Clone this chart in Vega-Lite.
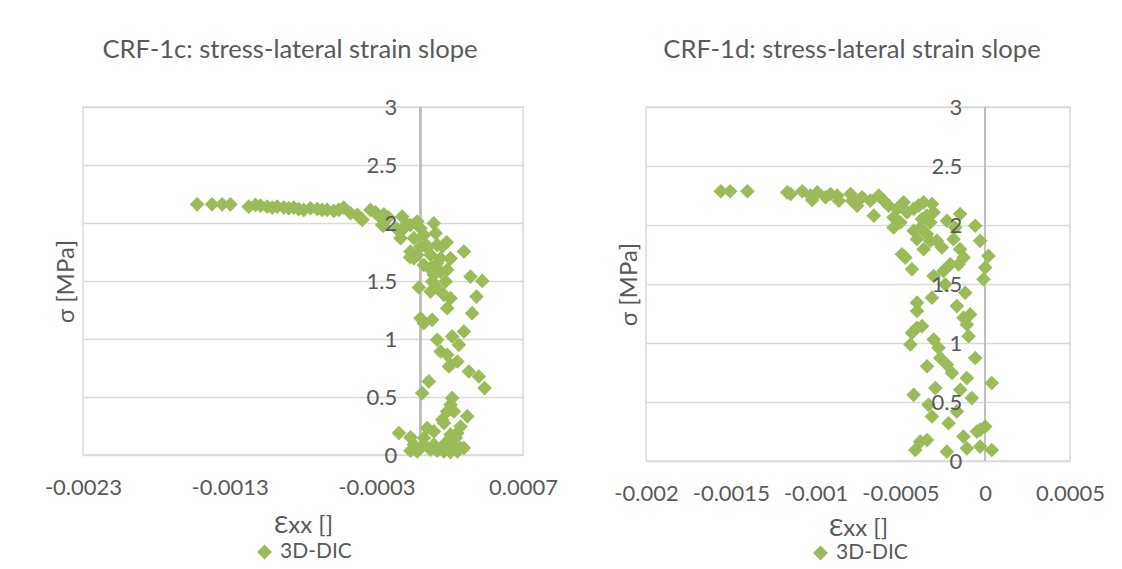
{
  "$schema": "https://vega.github.io/schema/vega-lite/v6.json",
  "autosize": {"type": "pad"},
  "padding": {"left": 43, "top": 37, "right": 0, "bottom": 0},
  "background": "white",
  "bounds": "flush",
  "spacing": 123,
  "config": {
    "font": "Lato",
    "view": {"stroke": "#d9d9d9", "strokeWidth": 1.5},
    "axis": {
      "labelFont": "Lato",
      "titleFont": "Lato",
      "labelColor": "#595959",
      "titleColor": "#595959",
      "labelFontSize": 22,
      "titleFontSize": 24,
      "titleFontWeight": "normal",
      "gridColor": "#d9d9d9",
      "gridWidth": 1.5,
      "domain": false,
      "ticks": false,
      "tickSize": 0,
      "labelFlush": false,
      "labelOverlap": false
    },
    "title": {
      "font": "Lato",
      "fontSize": 25.6,
      "fontWeight": "normal",
      "color": "#595959",
      "anchor": "middle",
      "frame": "group",
      "baseline": "bottom",
      "offset": 33
    },
    "legend": {
      "labelFont": "Lato",
      "labelFontSize": 21,
      "labelColor": "#595959",
      "padding": 0,
      "symbolType": "diamond",
      "symbolSize": 225,
      "symbolStrokeWidth": 0,
      "labelOffset": 5
    }
  },
  "datasets": {
    "crf1c": [
      {"exx": -0.001522, "sigma": 2.161}, {"exx": -0.001420, "sigma": 2.161}, {"exx": -0.001351, "sigma": 2.161}, {"exx": -0.001295, "sigma": 2.161},
      {"exx": -0.001170, "sigma": 2.141}, {"exx": -0.001124, "sigma": 2.156}, {"exx": -0.001090, "sigma": 2.150}, {"exx": -0.001045, "sigma": 2.141},
      {"exx": -0.001010, "sigma": 2.133}, {"exx": -0.000976, "sigma": 2.141}, {"exx": -0.000931, "sigma": 2.133}, {"exx": -0.000897, "sigma": 2.127},
      {"exx": -0.000863, "sigma": 2.133}, {"exx": -0.000829, "sigma": 2.121}, {"exx": -0.000795, "sigma": 2.113}, {"exx": -0.000749, "sigma": 2.127},
      {"exx": -0.000703, "sigma": 2.121}, {"exx": -0.000669, "sigma": 2.113}, {"exx": -0.000635, "sigma": 2.113}, {"exx": -0.000590, "sigma": 2.104},
      {"exx": -0.000556, "sigma": 2.113}, {"exx": -0.000522, "sigma": 2.133}, {"exx": -0.000476, "sigma": 2.084}, {"exx": -0.000430, "sigma": 2.070},
      {"exx": -0.000396, "sigma": 2.026}, {"exx": -0.000400, "sigma": 2.035}, {"exx": -0.000340, "sigma": 2.113}, {"exx": -0.000306, "sigma": 2.092},
      {"exx": -0.000286, "sigma": 2.063}, {"exx": -0.000260, "sigma": 1.983}, {"exx": -0.000249, "sigma": 2.075}, {"exx": -0.000252, "sigma": 1.977},
      {"exx": -0.000218, "sigma": 2.049}, {"exx": -0.000161, "sigma": 1.949}, {"exx": -0.000124, "sigma": 2.055}, {"exx": -0.000112, "sigma": 1.955},
      {"exx": -0.000135, "sigma": 1.869}, {"exx": -0.000093, "sigma": 1.992}, {"exx": -0.000067, "sigma": 1.983}, {"exx": -0.000044, "sigma": 1.869},
      {"exx": -0.000021, "sigma": 2.012}, {"exx": 0.000001, "sigma": 1.955}, {"exx": 0.000024, "sigma": 1.897}, {"exx": 0.000092, "sigma": 1.998},
      {"exx": 0.000104, "sigma": 1.912}, {"exx": 0.000044, "sigma": 1.805}, {"exx": 0.000180, "sigma": 1.834}, {"exx": -0.000067, "sigma": 1.754},
      {"exx": -0.000044, "sigma": 1.696}, {"exx": -0.000021, "sigma": 1.725}, {"exx": -0.000070, "sigma": 1.705}, {"exx": 0.000001, "sigma": 1.797},
      {"exx": 0.000047, "sigma": 1.782}, {"exx": 0.000115, "sigma": 1.811}, {"exx": 0.000149, "sigma": 1.797}, {"exx": 0.000070, "sigma": 1.725},
      {"exx": 0.000138, "sigma": 1.696}, {"exx": 0.000206, "sigma": 1.696}, {"exx": 0.000203, "sigma": 1.691}, {"exx": 0.000024, "sigma": 1.639},
      {"exx": 0.000070, "sigma": 1.610}, {"exx": 0.000066, "sigma": 1.605}, {"exx": 0.000115, "sigma": 1.653}, {"exx": 0.000297, "sigma": 1.754},
      {"exx": 0.000092, "sigma": 1.553}, {"exx": 0.000138, "sigma": 1.581}, {"exx": 0.000183, "sigma": 1.596}, {"exx": 0.000172, "sigma": 1.495},
      {"exx": 0.000081, "sigma": 1.495}, {"exx": 0.000115, "sigma": 1.438}, {"exx": 0.000070, "sigma": 1.409}, {"exx": 0.000161, "sigma": 1.381},
      {"exx": 0.000206, "sigma": 1.352}, {"exx": 0.000183, "sigma": 1.266}, {"exx": -0.000010, "sigma": 1.444}, {"exx": 0.000342, "sigma": 1.538},
      {"exx": 0.000422, "sigma": 1.501}, {"exx": 0.000383, "sigma": 1.366}, {"exx": 0.000353, "sigma": 1.223}, {"exx": 0.000001, "sigma": 1.179},
      {"exx": 0.000024, "sigma": 1.136}, {"exx": 0.000081, "sigma": 1.165}, {"exx": 0.000115, "sigma": 0.993}, {"exx": 0.000138, "sigma": 0.892},
      {"exx": 0.000217, "sigma": 1.022}, {"exx": 0.000263, "sigma": 0.950}, {"exx": 0.000297, "sigma": 1.065}, {"exx": 0.000183, "sigma": 0.864},
      {"exx": 0.000206, "sigma": 0.778}, {"exx": 0.000252, "sigma": 0.806}, {"exx": 0.000195, "sigma": 0.763}, {"exx": 0.000331, "sigma": 0.720},
      {"exx": 0.000399, "sigma": 0.677}, {"exx": 0.000438, "sigma": 0.577}, {"exx": 0.000058, "sigma": 0.634}, {"exx": 0.000013, "sigma": 0.534},
      {"exx": 0.000217, "sigma": 0.491}, {"exx": 0.000206, "sigma": 0.433}, {"exx": 0.000183, "sigma": 0.376}, {"exx": 0.000229, "sigma": 0.376},
      {"exx": 0.000320, "sigma": 0.333}, {"exx": 0.000149, "sigma": 0.304}, {"exx": 0.000161, "sigma": 0.275}, {"exx": 0.000274, "sigma": 0.246},
      {"exx": 0.000252, "sigma": 0.189}, {"exx": 0.000206, "sigma": 0.175}, {"exx": 0.000047, "sigma": 0.232}, {"exx": 0.000092, "sigma": 0.203},
      {"exx": -0.000146, "sigma": 0.189}, {"exx": -0.000067, "sigma": 0.152}, {"exx": -0.000044, "sigma": 0.089}, {"exx": 0.000024, "sigma": 0.146},
      {"exx": 0.000024, "sigma": 0.089}, {"exx": 0.000092, "sigma": 0.089}, {"exx": 0.000138, "sigma": 0.060}, {"exx": 0.000183, "sigma": 0.060},
      {"exx": 0.000229, "sigma": 0.074}, {"exx": 0.000274, "sigma": 0.060}, {"exx": 0.000297, "sigma": 0.060}, {"exx": -0.000067, "sigma": 0.037},
      {"exx": -0.000021, "sigma": 0.031}, {"exx": 0.000070, "sigma": 0.045}, {"exx": 0.000115, "sigma": 0.037}, {"exx": 0.000161, "sigma": 0.031},
      {"exx": 0.000206, "sigma": 0.025}, {"exx": 0.000252, "sigma": 0.031}, {"exx": 0.000183, "sigma": 0.117}, {"exx": 0.000240, "sigma": 0.146}
    ],
    "crf1d": [
      {"exx": -0.001559, "sigma": 2.286}, {"exx": -0.001504, "sigma": 2.286}, {"exx": -0.001402, "sigma": 2.286},
      {"exx": -0.001167, "sigma": 2.277}, {"exx": -0.001147, "sigma": 2.263}, {"exx": -0.001079, "sigma": 2.286}, {"exx": -0.001030, "sigma": 2.249},
      {"exx": -0.001020, "sigma": 2.212}, {"exx": -0.000990, "sigma": 2.277}, {"exx": -0.000941, "sigma": 2.235}, {"exx": -0.000912, "sigma": 2.263},
      {"exx": -0.000873, "sigma": 2.249}, {"exx": -0.000863, "sigma": 2.206}, {"exx": -0.000794, "sigma": 2.263}, {"exx": -0.000785, "sigma": 2.206},
      {"exx": -0.000755, "sigma": 2.164}, {"exx": -0.000726, "sigma": 2.235}, {"exx": -0.000677, "sigma": 2.206}, {"exx": -0.000628, "sigma": 2.249},
      {"exx": -0.000657, "sigma": 2.079}, {"exx": -0.000598, "sigma": 2.206}, {"exx": -0.000569, "sigma": 2.164}, {"exx": -0.000540, "sigma": 2.065},
      {"exx": -0.000520, "sigma": 2.136}, {"exx": -0.000540, "sigma": 1.979}, {"exx": -0.000481, "sigma": 2.192}, {"exx": -0.000500, "sigma": 2.022},
      {"exx": -0.000461, "sigma": 2.107}, {"exx": -0.000422, "sigma": 2.136}, {"exx": -0.000393, "sigma": 2.164}, {"exx": -0.000363, "sigma": 2.192},
      {"exx": -0.000373, "sigma": 2.050}, {"exx": -0.000344, "sigma": 2.079}, {"exx": -0.000314, "sigma": 2.178}, {"exx": -0.000304, "sigma": 2.107},
      {"exx": -0.000383, "sigma": 1.979}, {"exx": -0.000324, "sigma": 2.022}, {"exx": -0.000344, "sigma": 1.923}, {"exx": -0.000422, "sigma": 1.951},
      {"exx": -0.000402, "sigma": 1.880}, {"exx": -0.000363, "sigma": 1.795}, {"exx": -0.000324, "sigma": 1.866}, {"exx": -0.000285, "sigma": 1.866},
      {"exx": -0.000255, "sigma": 1.809}, {"exx": -0.000226, "sigma": 2.036}, {"exx": -0.000148, "sigma": 2.093}, {"exx": -0.000177, "sigma": 1.979},
      {"exx": -0.000059, "sigma": 1.994}, {"exx": -0.000187, "sigma": 1.880}, {"exx": -0.000148, "sigma": 1.795}, {"exx": -0.000030, "sigma": 1.866},
      {"exx": -0.000128, "sigma": 1.724}, {"exx": -0.000157, "sigma": 1.667}, {"exx": 0.000019, "sigma": 1.738}, {"exx": 0.000000, "sigma": 1.639},
      {"exx": -0.000206, "sigma": 1.667}, {"exx": -0.000246, "sigma": 1.611}, {"exx": -0.000471, "sigma": 1.724}, {"exx": -0.000491, "sigma": 1.752},
      {"exx": -0.000432, "sigma": 1.625}, {"exx": -0.000010, "sigma": 1.540}, {"exx": -0.000118, "sigma": 1.426}, {"exx": -0.000304, "sigma": 1.568},
      {"exx": -0.000236, "sigma": 1.497},
      {"exx": -0.000314, "sigma": 1.384}, {"exx": -0.000402, "sigma": 1.342}, {"exx": -0.000402, "sigma": 1.271}, {"exx": -0.000167, "sigma": 1.313},
      {"exx": -0.000128, "sigma": 1.214}, {"exx": -0.000089, "sigma": 1.242}, {"exx": -0.000108, "sigma": 1.157}, {"exx": -0.000098, "sigma": 1.058},
      {"exx": -0.000402, "sigma": 1.129}, {"exx": -0.000373, "sigma": 1.143}, {"exx": -0.000432, "sigma": 1.086}, {"exx": -0.000441, "sigma": 0.987},
      {"exx": -0.000304, "sigma": 1.030}, {"exx": -0.000275, "sigma": 0.959}, {"exx": -0.000265, "sigma": 0.873}, {"exx": -0.000226, "sigma": 0.817},
      {"exx": -0.000196, "sigma": 0.746}, {"exx": -0.000343, "sigma": 0.803}, {"exx": -0.000059, "sigma": 0.873}, {"exx": -0.000108, "sigma": 0.703},
      {"exx": 0.000039, "sigma": 0.661}, {"exx": -0.000294, "sigma": 0.618}, {"exx": -0.000422, "sigma": 0.561}, {"exx": -0.000147, "sigma": 0.604},
      {"exx": -0.000079, "sigma": 0.533}, {"exx": -0.000334, "sigma": 0.476}, {"exx": -0.000167, "sigma": 0.420}, {"exx": -0.000314, "sigma": 0.377},
      {"exx": -0.000216, "sigma": 0.320}, {"exx": -0.000030, "sigma": 0.264}, {"exx": 0.000000, "sigma": 0.292}, {"exx": -0.000049, "sigma": 0.249},
      {"exx": -0.000128, "sigma": 0.207}, {"exx": -0.000108, "sigma": 0.107}, {"exx": -0.000030, "sigma": 0.122}, {"exx": 0.000039, "sigma": 0.093},
      {"exx": -0.000383, "sigma": 0.164}, {"exx": -0.000343, "sigma": 0.178}, {"exx": -0.000412, "sigma": 0.093}, {"exx": -0.000226, "sigma": 0.079}
    ],
    "stressTicks": [
      {"v": 0}, {"v": 0.5}, {"v": 1}, {"v": 1.5}, {"v": 2}, {"v": 2.5}, {"v": 3}
    ]
  },
  "hconcat": [
    {
      "width": 440,
      "height": 348,
      "title": {"text": "CRF-1c: stress-lateral strain slope", "dx": -13},
      "layer": [
        {
          "data": {"name": "crf1c"},
          "mark": {"type": "rule", "color": "#bfbfbf", "strokeWidth": 1.5},
          "encoding": {"x": {"datum": 0, "type": "quantitative"}}
        },
        {
          "data": {"name": "crf1c"},
          "mark": {"type": "point", "shape": "diamond", "filled": true, "size": 215, "opacity": 1, "strokeWidth": 0},
          "encoding": {
            "x": {
              "field": "exx", "type": "quantitative",
              "scale": {"domain": [-0.0023, 0.0007], "nice": false, "zero": false},
              "axis": {
                "values": [-0.0023, -0.0013, -0.0003, 0.0007],
                "title": "Ɛxx []",
                "labelExpr": "replace(format(datum.value, '~g'), '−', '-')",
                "labelPadding": 22,
                "titlePadding": 15
              }
            },
            "y": {
              "field": "sigma", "type": "quantitative",
              "scale": {"domain": [0, 3], "nice": false},
              "axis": {"values": [0, 0.5, 1, 1.5, 2, 2.5, 3], "labels": false, "title": "σ [MPa]", "titlePadding": 5}
            },
            "color": {
              "datum": "3D-DIC",
              "scale": {"range": ["#9BBB59"]},
              "legend": {"title": null, "orient": "none", "legendX": 171, "legendY": 434.5}
            }
          }
        },
        {
          "data": {"name": "stressTicks"},
          "mark": {"type": "text", "align": "right", "baseline": "middle", "dx": -23, "dy": 1, "fontSize": 22, "font": "Lato", "color": "#595959"},
          "encoding": {
            "x": {"datum": 0, "type": "quantitative"},
            "y": {"field": "v", "type": "quantitative"},
            "text": {"field": "v", "type": "quantitative", "format": "~g"}
          }
        }
      ]
    },
    {
      "width": 424,
      "height": 354,
      "title": {"text": "CRF-1d: stress-lateral strain slope", "dx": -6},
      "layer": [
        {
          "data": {"name": "crf1d"},
          "mark": {"type": "rule", "color": "#bfbfbf", "strokeWidth": 1.5},
          "encoding": {"x": {"datum": 0, "type": "quantitative"}}
        },
        {
          "data": {"name": "crf1d"},
          "mark": {"type": "point", "shape": "diamond", "filled": true, "size": 215, "opacity": 1, "strokeWidth": 0},
          "encoding": {
            "x": {
              "field": "exx", "type": "quantitative",
              "scale": {"domain": [-0.002, 0.0005], "nice": false, "zero": false},
              "axis": {
                "values": [-0.002, -0.0015, -0.001, -0.0005, 0, 0.0005],
                "title": "Ɛxx []",
                "labelExpr": "replace(format(datum.value, '~g'), '−', '-')",
                "labelPadding": 22,
                "titlePadding": 12
              }
            },
            "y": {
              "field": "sigma", "type": "quantitative",
              "scale": {"domain": [0, 3], "nice": false},
              "axis": {"values": [0, 0.5, 1, 1.5, 2, 2.5, 3], "labels": false, "title": "σ [MPa]", "titlePadding": 5}
            },
            "color": {
              "datum": "3D-DIC",
              "scale": {"range": ["#9BBB59"]},
              "legend": {"title": null, "orient": "none", "legendX": 164, "legendY": 435.5}
            }
          }
        },
        {
          "data": {"name": "stressTicks"},
          "mark": {"type": "text", "align": "right", "baseline": "middle", "dx": -23, "dy": 1, "fontSize": 22, "font": "Lato", "color": "#595959"},
          "encoding": {
            "x": {"datum": 0, "type": "quantitative"},
            "y": {"field": "v", "type": "quantitative"},
            "text": {"field": "v", "type": "quantitative", "format": "~g"}
          }
        }
      ]
    }
  ],
  "resolve": {
    "scale": {"color": "independent", "x": "independent", "y": "independent"},
    "legend": {"color": "independent"}
  }
}
